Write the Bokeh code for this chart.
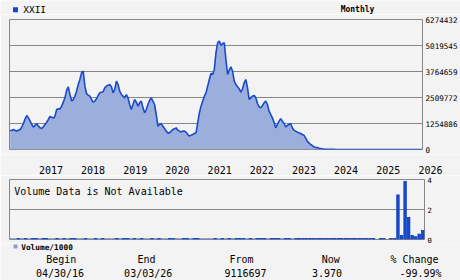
import pandas as pd
from bokeh.plotting import figure
from bokeh.models import Range1d, FixedTicker, LinearAxis
from bokeh.core.properties import value
from bokeh.layouts import column
from bokeh.embed import file_html
from bokeh.resources import INLINE

# ---------------- data ----------------
symbol = "XXII"
frequency = "Monthly"
begin_date = "2016-04-30"
end_date = "2026-03-03"

# price (thousands), sampled about every two weeks, May 2016 .. Oct 2023
price_k_a = [901, 933, 965, 917, 885, 933, 965, 1094, 1255, 1480,
             1641, 1528, 1368, 1207, 1078, 1174, 1239, 1126, 1046, 1014,
             1094, 1207, 1319, 1448, 1593, 1561, 1512, 1609, 1931, 1963,
             1963, 2092, 2285, 2494, 2864, 3025, 2655, 2333, 2413, 2574,
             2816, 3137, 3379, 3701, 3781, 3057, 2703, 2623, 2574, 2413,
             2285, 2333, 2446, 2607, 2735, 2767, 2784, 2977, 3057, 3105,
             3137, 3025, 2735, 2896]
price_k_b = [3298, 3137, 2816, 2655, 2574, 2494, 2655, 2494, 2172, 1931,
             2172, 2413, 2285, 2092, 2252, 2333, 2011, 1770, 1931, 2172,
             2365, 2494, 2333, 2172, 1689, 1126, 1207, 1239, 1126, 1014,
             885, 804, 804, 885, 965, 998, 1046, 933, 885, 837,
             885, 885, 837, 724, 644, 692, 724, 772, 804, 1287,
             1770, 2092, 2333, 2574, 2735, 3057, 3379, 3669, 3620, 3861,
             4666, 5149, 5229]
price_k_c = [5020, 5117, 5149, 4344, 3620, 3829, 3990, 3781, 3298, 3137,
             3025, 2928, 2767, 2928, 3218, 3379, 2977, 2413, 2494, 2574,
             2607, 2494, 2220, 2059, 2011, 2124, 2252, 2333, 2172, 1850,
             1689, 1528, 1319, 1046, 1207, 1368, 1480, 1368, 1255, 1094,
             1158, 1207, 1255, 1046, 933, 885, 837, 804, 772, 724,
             692, 563, 402, 322, 241, 193, 129, 97, 97, 64,
             48, 32]
dense_first = "2016-05-06"
dense_last = "2023-10-12"

# monthly tail Nov 2023 .. Mar 2026 (near zero)
tail_values = [20000, 12000, 8000, 5000, 3500, 2500, 1800, 1200, 900, 600,
               400, 300, 200, 150, 100, 70, 50, 35, 25, 18,
               14, 11, 9, 7, 6, 5, 4.5, 4.2, 3.97]
tail_first = "2023-11-01"

# volume / 1000, monthly May 2016 .. Feb 2026
volume = [0, 0, .1, 0, .1, 0, .1, .1, 0, .1,
          .1, 0, 0, .1, 0, .1, 0, .1, .1, 0,
          0, .1, 0, 0, .1, 0, .1, 0, 0, 0,
          .1, 0, .1, .1, 0, .1, 0, .1, 0, 0,
          .1, 0, .1, 0, 0, .1, .1, 0, 0, .1,
          .1, 0, .1, .1, 0, 0, 0, 0, .1, 0,
          .1, 0, .1, 0, .1, .1, .1, 0, .1, 0,
          .1, .1, .1, 0, .1, .1, .1, 0, .1, .1,
          0, .1, .1, .1, .1, .1, .1, .1, .1, .1,
          .1, .1, .1, .1, .1, .1, .1, .1, .1, .1,
          .1, .1, .1, .1, 0, .1, .1, 0, .1, .1,
          3.0, 0.3, 3.9, 1.5, 0.3, 0.22, 0.38, 0.63]
volume_light = [.1] * 81 + [0] * 37
volume_first = "2016-05-01"

price_ticks = [0, 1254886, 2509772, 3764659, 5019545, 6274432]
volume_ticks = [0, 2, 4]
year_labels = [2017, 2018, 2019, 2020, 2021, 2022, 2023, 2024, 2025, 2026]

stat_titles = ["Begin", "End", "From", "Now", "% Change"]
stat_values = ["04/30/16", "03/03/26", "9116697", "3.970", "-99.99%"]

# ---------------- styling / layout ----------------
BG = "#f3f3f3"
GRID = "#868686"
LINE = "#1a4acc"
FILL = "#9cafdc"
BAR = "#1448c8"
BAR_LIGHT = "#8c9fd0"
FONT = "DejaVu Sans Mono"
W = 460
LEFT, RIGHT = 9, 36

# pixel positions of texts in the header / footer strips
stat_title_x = [60.7, 146, 241, 330.3, 414]
stat_value_x = [59.5, 147.7, 245, 326.5, 420]


def ms(d):
    return pd.Timestamp(d).value // 10**6


def strip(height, x_range, y_range):
    f = figure(width=W, height=height, x_range=x_range, y_range=y_range,
               x_axis_location=None, y_axis_location=None, title=None,
               toolbar_location=None, output_backend="svg",
               min_border_left=0, min_border_right=0, min_border_top=0,
               min_border_bottom=0)
    f.frame_align = False
    f.background_fill_color = BG
    f.border_fill_color = BG
    f.outline_line_color = None
    f.grid.visible = False
    return f


def txt(f, xs, ys, texts, size, align="left", style="normal", x_offset=0):
    f.text(x=xs, y=ys, text=texts, text_font=value(FONT), text_font_size=size,
           text_align=align, text_baseline="middle", text_font_style=style,
           text_color="black", x_offset=x_offset)


def panel(height, y_max, top, bottom):
    f = figure(width=W, height=height, x_axis_type="datetime",
               x_range=Range1d(x0, x1), y_range=Range1d(0, y_max),
               x_axis_location=None, y_axis_location=None, title=None,
               toolbar_location=None, output_backend="svg",
               min_border_left=LEFT, min_border_right=RIGHT,
               min_border_top=top, min_border_bottom=bottom)
    f.frame_align = False
    f.background_fill_color = BG
    f.border_fill_color = BG
    f.outline_line_color = GRID
    f.xgrid.visible = False
    f.ygrid.grid_line_color = GRID
    return f


def right_axis(f, ticks, size):
    ax = LinearAxis(ticker=FixedTicker(ticks=ticks))
    ax.major_label_overrides = {t: str(t) for t in ticks}
    ax.axis_line_color = None
    ax.major_tick_line_color = None
    ax.minor_tick_line_color = None
    ax.major_tick_out = 0
    ax.minor_tick_out = 0
    ax.major_label_standoff = 3
    ax.major_label_text_font = FONT
    ax.major_label_text_font_size = size
    ax.major_label_text_color = "black"
    f.add_layout(ax, "right")


price_k = price_k_a + price_k_b + price_k_c
dense_dates = pd.date_range(dense_first, dense_last, periods=len(price_k))
tail_dates = pd.date_range(tail_first, periods=len(tail_values), freq="MS")
dates = list(dense_dates) + list(tail_dates)
prices = [v * 1000 for v in price_k] + tail_values

x0, x1 = ms(begin_date), ms(end_date)
mpp = (x1 - x0) / (W - LEFT - RIGHT)

# ---- header ----
H_HEAD = 14
head = strip(H_HEAD, Range1d(0, W), Range1d(H_HEAD, 0))
head.scatter(x=[15], y=[9.2], marker="square", size=5, fill_color=BAR, line_color=None)
txt(head, [22.7], [8.5], [symbol], "9.5px")
txt(head, [357], [9], [frequency], "8px", align="center", style="bold")

# ---- main price panel ----
p1 = panel(140, price_ticks[-1], 5, 5)
p1.ygrid.ticker = FixedTicker(ticks=price_ticks)
right_axis(p1, price_ticks, "7.6px")
p1.varea(x=dates, y1=0, y2=prices, fill_color=FILL)
p1.line(x=dates, y=prices, line_color=LINE, line_width=1.6)

# ---- year strip (same time scale as the panels, widened to the full width) ----
H_YEAR = 21
years = strip(H_YEAR, Range1d(x0 - LEFT * mpp, x1 + RIGHT * mpp), Range1d(H_YEAR, 0))
txt(years, [ms(f"{y}-01-01") for y in year_labels], [15.2] * len(year_labels),
    [str(y) for y in year_labels], "10px", x_offset=1)

# ---- volume panel ----
vol_dates = pd.date_range(volume_first, periods=len(volume), freq="MS") + pd.Timedelta(days=15)
bar_w = 30 * 24 * 3600 * 1000
p2 = panel(68, volume_ticks[-1], 4, 4)
p2.ygrid.ticker = FixedTicker(ticks=volume_ticks)
right_axis(p2, volume_ticks, "7.2px")
p2.vbar(x=vol_dates, top=volume_light, width=bar_w, fill_color=BAR_LIGHT, line_color=None)
p2.vbar(x=vol_dates, top=volume, width=bar_w, fill_color=BAR, line_color=None)
p2.text(x=[x0], y=[volume_ticks[-1]], text=["Volume Data is Not Available"],
        text_font=value(FONT), text_font_size="10px", text_align="left",
        text_baseline="middle", text_color="black", x_offset=4.7, y_offset=11.7)

# ---- footer ----
H_FOOT = 37
foot = strip(H_FOOT, Range1d(0, W), Range1d(H_FOOT, 0))
foot.scatter(x=[15], y=[3], marker="square", size=4, fill_color=BAR_LIGHT, line_color=None)
txt(foot, [20.7], [4.3], ["Volume/1000"], "7.8px", style="bold")
txt(foot, stat_title_x, [16.3] * 5, stat_titles, "10px", align="center")
txt(foot, stat_value_x, [29.7] * 5, stat_values, "10px", align="center")

layout = column(head, p1, years, p2, foot, spacing=0)
open("out.html", "w").write(file_html(layout, INLINE))
